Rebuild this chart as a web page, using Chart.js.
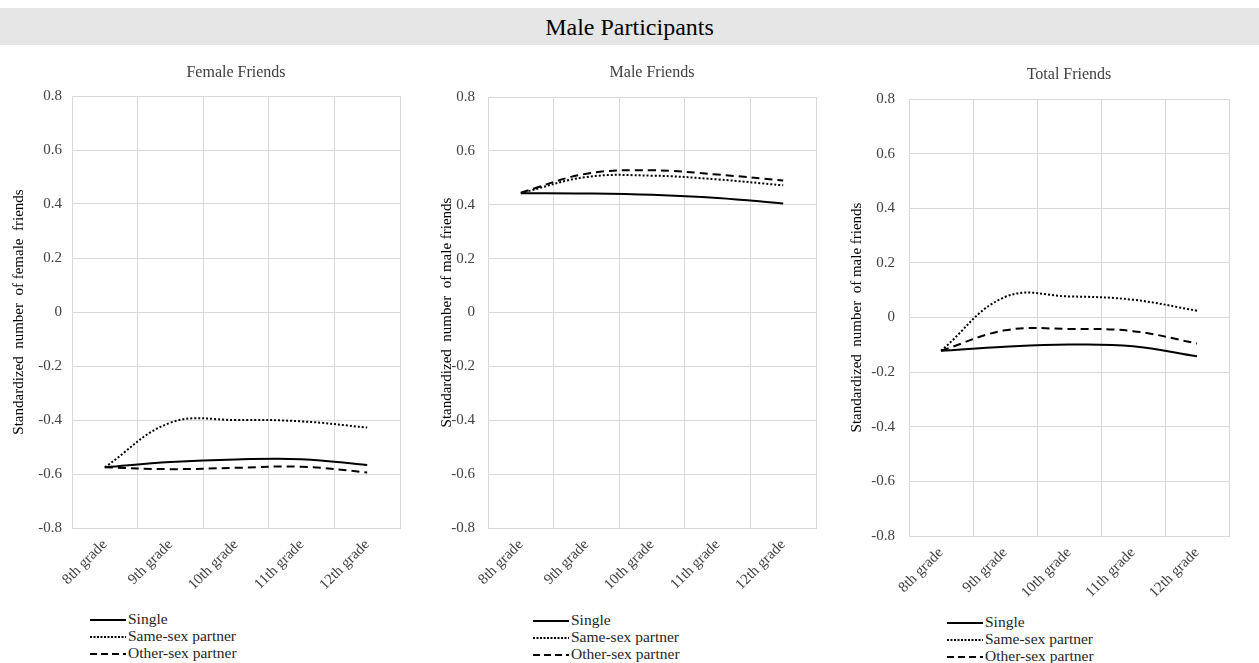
<!DOCTYPE html>
<html>
<head>
<meta charset="utf-8">
<script src="https://cdn.jsdelivr.net/npm/chart.js@4.4.0/dist/chart.umd.min.js"></script>
<style>
body { margin: 0; background: #fff; font-family: "Liberation Serif", "Times New Roman", serif; }
#page { position: relative; width: 1259px; height: 663px; overflow: hidden; }
#banner { position: absolute; left: 0; top: 8px; width: 1259px; height: 37px; background: #e6e6e6;
  text-align: center; line-height: 38px; font-size: 24px; color: #000; }
canvas { position: absolute; }
.ptitle { position: absolute; width: 300px; text-align: center; font-size: 16px; line-height: 20px; color: #404040; }
.legend { position: absolute; font-size: 15.5px; color: #262626; }
.legend div { height: 17px; line-height: 17px; white-space: nowrap; }
.legend svg { vertical-align: middle; margin-right: 2px; }
</style>
</head>
<body>
<div id="page">
  <div id="banner">Male Participants</div>
</div>
<script>
// categories and series
const grades = ['8th grade', '9th grade', '10th grade', '11th grade', '12th grade'];
const seriesNames = ['Single', 'Same-sex partner', 'Other-sex partner'];
const yTicks = [-0.8, -0.6, -0.4, -0.2, 0, 0.2, 0.4, 0.6, 0.8];

const femaleSingle   = [-0.575, -0.556, -0.546, -0.545, -0.567];
const femaleSameSex  = [-0.575, -0.410, -0.400, -0.405, -0.428];
const femaleOtherSex = [-0.575, -0.582, -0.577, -0.573, -0.594];

const maleSingle   = [0.443, 0.442, 0.437, 0.425, 0.405];
const maleSameSex  = [0.443, 0.503, 0.508, 0.494, 0.472];
const maleOtherSex = [0.445, 0.515, 0.528, 0.512, 0.490];

const totalSingle   = [-0.122, -0.107, -0.099, -0.105, -0.142];
const totalSameSex  = [-0.122, 0.075, 0.077, 0.065, 0.025];
const totalOtherSex = [-0.122, -0.047, -0.042, -0.050, -0.095];

const dashes = [[], [2, 2], [8, 5]];
const svgDash = ['', '2,1.5', '7,4'];
const gridColor = '#d9d9d9';
const serif = '"Liberation Serif", "Times New Roman", serif';
const xAxisH = 75;
const padTop = 26; // room for the y tick overflow (half label + tick padding)

const panels = [
  { title: 'Female Friends', yLabel: 'Standardized  number  of female  friends',
    data: [femaleSingle, femaleSameSex, femaleOtherSex],
    left: 0, area: { left: 72, right: 400, top: 96, bottom: 528 },
    titleY: 62, yTitlePad: 10, yTickPad: 10, legendX: 90, legendY: 610 },
  { title: 'Male Friends', yLabel: 'Standardized  number  of male friends',
    data: [maleSingle, maleSameSex, maleOtherSex],
    left: 420, area: { left: 488, right: 816, top: 97, bottom: 528 },
    titleY: 62, yTitlePad: 18, yTickPad: 13, legendX: 533, legendY: 611 },
  { title: 'Total Friends', yLabel: 'Standardized  number  of male friends',
    data: [totalSingle, totalSameSex, totalOtherSex],
    left: 840, area: { left: 909, right: 1229, top: 99, bottom: 536 },
    titleY: 64, yTitlePad: 8, yTickPad: 14, legendX: 947, legendY: 613 }
];

const page = document.getElementById('page');

panels.forEach(p => {
  const a = p.area;
  const canvas = document.createElement('canvas');
  const w = a.right + 12 - p.left;
  const h = a.bottom + xAxisH - (a.top - padTop);
  canvas.width = w; canvas.height = h;
  canvas.style.left = p.left + 'px';
  canvas.style.top = (a.top - padTop) + 'px';
  canvas.style.width = w + 'px';
  canvas.style.height = h + 'px';
  page.appendChild(canvas);

  const t = document.createElement('div');
  t.className = 'ptitle';
  t.textContent = p.title;
  t.style.left = ((a.left + a.right) / 2 - 150) + 'px';
  t.style.top = p.titleY + 'px';
  page.appendChild(t);

  const lg = document.createElement('div');
  lg.className = 'legend';
  lg.style.left = p.legendX + 'px';
  lg.style.top = p.legendY + 'px';
  seriesNames.forEach((name, i) => {
    const row = document.createElement('div');
    row.innerHTML = '<svg width="36" height="4"><line x1="0" y1="2" x2="36" y2="2" stroke="#000" stroke-width="2"' +
      (svgDash[i] ? ' stroke-dasharray="' + svgDash[i] + '"' : '') + '/></svg>' + name;
    lg.appendChild(row);
  });
  page.appendChild(lg);

  new Chart(canvas, {
    type: 'line',
    data: {
      labels: grades,
      datasets: seriesNames.map((name, i) => ({
        label: name,
        data: p.data[i],
        borderColor: '#000',
        borderWidth: 2,
        borderDash: dashes[i],
        pointRadius: 0,
        tension: 0.4,
        fill: false
      }))
    },
    options: {
      responsive: false,
      animation: false,
      layout: { padding: { top: padTop, right: 12, left: 0, bottom: 0 } },
      plugins: { legend: { display: false }, title: { display: false }, tooltip: { enabled: false } },
      scales: {
        x: {
          offset: true,
          grid: { offset: true, color: gridColor, drawTicks: false },
          border: { color: gridColor },
          ticks: {
            minRotation: 45, maxRotation: 45, padding: 8,
            color: '#404040',
            font: { family: serif, size: 15 }
          },
          afterFit: s => { s.height = xAxisH; }
        },
        y: {
          min: -0.8, max: 0.8,
          afterBuildTicks: s => { s.ticks = yTicks.map(v => ({ value: v })); },
          grid: { color: gridColor, drawTicks: false },
          border: { color: gridColor },
          ticks: {
            padding: p.yTickPad,
            color: '#404040',
            font: { family: serif, size: 15 },
            callback: v => Math.abs(v) < 1e-9 ? '0' : String(Math.round(v * 10) / 10)
          },
          title: {
            display: true,
            text: p.yLabel,
            color: '#000',
            padding: { top: p.yTitlePad, bottom: 0 },
            font: { family: serif, size: 15 }
          },
          afterFit: s => { s.width = a.left - p.left; }
        }
      }
    }
  });
});
</script>
</body>
</html>
